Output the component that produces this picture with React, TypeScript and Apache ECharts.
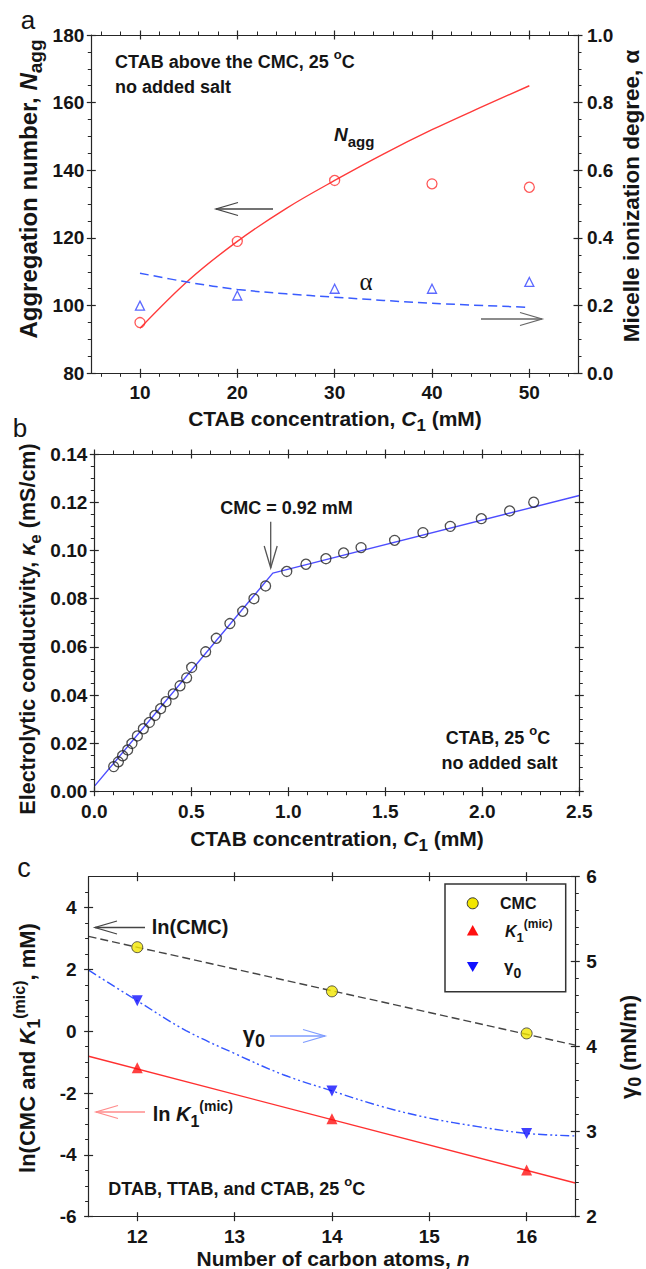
import React, { useEffect, useRef } from "react";
import * as echarts from "echarts";

// ---------------- Panel (a) data ----------------
const aConc = [10, 20, 30, 40, 50];
const aNagg = [95, 119, 137, 136, 135];
const aAlpha = [0.2, 0.23, 0.25, 0.25, 0.27];
const aNaggFitX = [10, 15, 20, 25, 30, 35, 40, 45, 50];
const aNaggFitY = [93.3, 107.5, 119, 128.7, 137, 144.8, 152, 158.6, 165];
const aAlphaFitX = [10, 15, 20, 25, 30, 40, 50];
const aAlphaFitY = [0.296, 0.269, 0.248, 0.235, 0.225, 0.207, 0.195];
const aXTicks = [10, 20, 30, 40, 50];
const aYTicks = [80, 100, 120, 140, 160, 180];
const aY2Ticks = [0, 0.2, 0.4, 0.6, 0.8, 1.0];

// ---------------- Panel (b) data ----------------
const bConc = [0.1, 0.124, 0.146, 0.172, 0.194, 0.222, 0.253, 0.284, 0.313, 0.342, 0.37, 0.407, 0.442, 0.476, 0.502, 0.574, 0.629, 0.699, 0.765, 0.823, 0.883, 0.992, 1.091, 1.194, 1.285, 1.375, 1.548, 1.694, 1.835, 1.995, 2.141, 2.265];
const bKappa = [0.0104, 0.0124, 0.0149, 0.0173, 0.02, 0.0231, 0.0261, 0.0287, 0.0316, 0.0344, 0.0373, 0.0405, 0.0439, 0.0472, 0.0515, 0.058, 0.0636, 0.0697, 0.0748, 0.08, 0.0853, 0.0913, 0.0943, 0.0966, 0.099, 0.1012, 0.1042, 0.1074, 0.11, 0.1132, 0.1164, 0.12];
const bFitX = [0, 0.92, 2.5];
const bFitY = [0.0022, 0.0906, 0.1228];
const bXTicks = [0, 0.5, 1.0, 1.5, 2.0, 2.5];
const bYTicks = [0, 0.02, 0.04, 0.06, 0.08, 0.1, 0.12, 0.14];

// ---------------- Panel (c) data ----------------
const cN = [12, 14, 16];
const cLnCMC = [2.72, 1.29, -0.07];
const cLnK1 = [-1.18, -2.83, -4.49];
const cGamma = [4.54, 3.48, 2.98];
const cCmcFitX = [11.5, 16.5];
const cCmcFitY = [3.07, -0.45];
const cK1FitX = [11.5, 16.5];
const cK1FitY = [-0.81, -4.91];
const cGammaFitX = [11.5, 12, 12.5, 13, 13.5, 14, 14.5, 15, 15.5, 16, 16.5];
const cGammaFitY = [4.9, 4.54, 4.19, 3.92, 3.67, 3.48, 3.3, 3.16, 3.06, 2.98, 2.95];
const cXTicks = [12, 13, 14, 15, 16];
const cYTicks = [-6, -4, -2, 0, 2, 4];
const cY2Ticks = [2, 3, 4, 5, 6];

const FONT = '"Liberation Sans", Arial, Helvetica, sans-serif';
const SERIF = '"Liberation Serif", "Times New Roman", serif';
const AX = "#262626";
const TXT = "#151515";
const TICK_FS = 19;

function minorsOf(min: number, max: number, step: number, majors: number[]) {
  const out: number[] = [];
  const n = Math.round((max - min) / step);
  for (let i = 0; i <= n; i++) {
    const v = +(min + i * step).toFixed(6);
    if (!majors.some((m) => Math.abs(m - v) < 1e-9)) out.push(v);
  }
  return out;
}

const zip = (xs: number[], ys: number[]) => xs.map((x, i) => [x, ys[i]]);

function addAxis(
  list: any[],
  grid: number,
  position: string,
  min: number,
  max: number,
  majors: number[],
  minors: number[],
  label: null | { fmt: (v: number) => string; margin: number }
): number {
  const idx = list.length;
  const common = {
    type: "value",
    gridIndex: grid,
    min,
    max,
    position,
    splitLine: { show: false },
    splitArea: { show: false },
    minorTick: { show: false },
    minorSplitLine: { show: false },
    silent: true,
    z: 5,
  };
  list.push({
    ...common,
    axisLine: { show: true, onZero: false, lineStyle: { color: AX, width: 1.2 } },
    axisTick: { show: true, inside: false, length: 4.5, customValues: majors, lineStyle: { color: AX, width: 1.2 } },
    axisLabel: label
      ? {
          show: true,
          customValues: majors,
          formatter: label.fmt,
          margin: label.margin,
          fontSize: TICK_FS,
          lineHeight: TICK_FS,
          fontWeight: "bold",
          fontFamily: FONT,
          color: TXT,
        }
      : { show: false },
  });
  list.push({
    ...common,
    axisLine: { show: false, onZero: false },
    axisTick: { show: true, inside: true, length: 4.5, customValues: majors, lineStyle: { color: AX, width: 1.2 } },
    axisLabel: { show: false },
  });
  if (minors.length) {
    list.push({
      ...common,
      axisLine: { show: false, onZero: false },
      axisTick: { show: true, inside: false, length: 3.5, customValues: minors, lineStyle: { color: AX, width: 1 } },
      axisLabel: { show: false },
    });
  }
  return idx;
}

function rich(size: number, extra: number) {
  const lh = size + extra;
  const sup = Math.round(size * 0.72);
  const sub = Math.round(size * 0.8);
  return {
    m: { fontSize: size, fontWeight: "bold", fontFamily: FONT, lineHeight: lh, verticalAlign: "middle" },
    i: { fontSize: size, fontWeight: "bold", fontStyle: "italic", fontFamily: FONT, lineHeight: lh, verticalAlign: "middle" },
    g: { fontSize: size, fontWeight: "bold", fontFamily: FONT, lineHeight: lh, verticalAlign: "middle" },
    sup: { fontSize: sup, fontWeight: "bold", fontFamily: FONT, lineHeight: sup, verticalAlign: "top" },
    sub: { fontSize: sub, fontWeight: "bold", fontFamily: FONT, lineHeight: sub, verticalAlign: "bottom" },
  };
}

function txt(x: number, y: number, text: string, size: number, align = "left", rotation = 0, extra = 10) {
  return {
    type: "text",
    x,
    y,
    rotation,
    silent: true,
    z: 100,
    style: {
      text,
      fill: TXT,
      fontSize: size,
      fontWeight: "bold",
      fontFamily: FONT,
      align,
      verticalAlign: "middle",
      textAlign: align,
      textVerticalAlign: "middle",
      rich: rich(size, extra),
    },
  };
}

function plain(x: number, y: number, text: string, size: number, family: string, weight = "normal") {
  return {
    type: "text",
    x,
    y,
    silent: true,
    z: 100,
    style: {
      text,
      fill: TXT,
      fontSize: size,
      fontWeight: weight,
      fontFamily: family,
      align: "center",
      verticalAlign: "middle",
      textAlign: "center",
      textVerticalAlign: "middle",
    },
  };
}

function arrow(x1: number, y1: number, x2: number, y2: number, color: string) {
  const dx = x2 - x1;
  const dy = y2 - y1;
  const len = Math.sqrt(dx * dx + dy * dy);
  const ux = dx / len;
  const uy = dy / len;
  const hl = 22;
  const hw = 6.5;
  const bx = x2 - ux * hl;
  const by = y2 - uy * hl;
  return [
    { type: "line", silent: true, z: 90, shape: { x1, y1, x2, y2 }, style: { stroke: color, lineWidth: 1.3 } },
    {
      type: "polyline",
      silent: true,
      z: 90,
      shape: { points: [[bx - uy * hw, by + ux * hw], [x2, y2], [bx + uy * hw, by - ux * hw]] },
      style: { stroke: color, lineWidth: 1.3, fill: "none" },
    },
  ];
}

export default function App() {
  const ref = useRef<HTMLDivElement>(null);

  useEffect(() => {
    if (!ref.current) return;
    const chart = echarts.init(ref.current, undefined, { renderer: "svg" });

    const xAxes: any[] = [];
    const yAxes: any[] = [];

    // Panel a
    const aX = addAxis(xAxes, 0, "bottom", 5, 55, aXTicks, minorsOf(6, 54, 2, aXTicks), { fmt: (v) => String(v), margin: 10 });
    addAxis(xAxes, 0, "top", 5, 55, aXTicks, minorsOf(6, 54, 2, aXTicks), null);
    const aY = addAxis(yAxes, 0, "left", 80, 180, aYTicks, minorsOf(80, 180, 5, aYTicks), { fmt: (v) => String(v), margin: 7 });
    const aY2 = addAxis(yAxes, 0, "right", 0, 1, aY2Ticks, minorsOf(0, 1, 0.05, aY2Ticks), { fmt: (v) => v.toFixed(1), margin: 9 });

    // Panel b
    const bX = addAxis(xAxes, 1, "bottom", 0, 2.5, bXTicks, minorsOf(0, 2.5, 0.1, bXTicks), { fmt: (v) => v.toFixed(1), margin: 10 });
    addAxis(xAxes, 1, "top", 0, 2.5, bXTicks, minorsOf(0, 2.5, 0.1, bXTicks), null);
    const bY = addAxis(yAxes, 1, "left", 0, 0.14, bYTicks, minorsOf(0, 0.14, 0.005, bYTicks), { fmt: (v) => v.toFixed(2), margin: 7 });
    addAxis(yAxes, 1, "right", 0, 0.14, bYTicks, minorsOf(0, 0.14, 0.005, bYTicks), null);

    // Panel c
    const cX = addAxis(xAxes, 2, "bottom", 11.5, 16.5, cXTicks, [], { fmt: (v) => String(v), margin: 10 });
    addAxis(xAxes, 2, "top", 11.5, 16.5, cXTicks, [], null);
    const cY = addAxis(yAxes, 2, "left", -6, 5, cYTicks, minorsOf(-6, 4.5, 0.5, cYTicks), { fmt: (v) => String(v), margin: 12 });
    const cY2 = addAxis(yAxes, 2, "right", 2, 6, cY2Ticks, minorsOf(2, 6, 0.2, cY2Ticks), { fmt: (v) => String(v), margin: 11 });

    const hollow = (c: string) => ({ color: "rgba(255,255,255,0)", borderColor: c, borderWidth: 1.3 });

    const series: any[] = [
      // a
      {
        type: "line", xAxisIndex: aX, yAxisIndex: aY, data: zip(aNaggFitX, aNaggFitY), smooth: 0.35, showSymbol: false, symbol: "none",
        lineStyle: { color: "#ff3a3a", width: 1.4 }, z: 2,
      },
      {
        type: "line", xAxisIndex: aX, yAxisIndex: aY2, data: zip(aAlphaFitX, aAlphaFitY), smooth: 0.35, showSymbol: false, symbol: "none",
        lineStyle: { color: "#3a5cff", width: 1.5, type: [9, 5] }, z: 2,
      },
      {
        type: "scatter", xAxisIndex: aX, yAxisIndex: aY, data: zip(aConc, aNagg), symbol: "circle", symbolSize: 10,
        itemStyle: hollow("#ff3030"), z: 3,
      },
      {
        type: "scatter", xAxisIndex: aX, yAxisIndex: aY2, data: zip(aConc, aAlpha), symbol: "triangle", symbolSize: 9,
        itemStyle: hollow("#3344ff"), z: 3,
      },
      // b
      {
        type: "line", xAxisIndex: bX, yAxisIndex: bY, data: zip(bFitX, bFitY), showSymbol: false, symbol: "none",
        lineStyle: { color: "#4d4dff", width: 1.4 }, z: 2,
      },
      {
        type: "scatter", xAxisIndex: bX, yAxisIndex: bY, data: zip(bConc, bKappa), symbol: "circle", symbolSize: 10,
        itemStyle: hollow("#222"), z: 3,
      },
      // c
      {
        type: "line", xAxisIndex: cX, yAxisIndex: cY, data: zip(cCmcFitX, cCmcFitY), showSymbol: false, symbol: "none",
        lineStyle: { color: "#444", width: 1.4, type: [8, 4] }, z: 2,
      },
      {
        type: "line", xAxisIndex: cX, yAxisIndex: cY, data: zip(cK1FitX, cK1FitY), showSymbol: false, symbol: "none",
        lineStyle: { color: "#ff3030", width: 1.4 }, z: 2,
      },
      {
        type: "line", xAxisIndex: cX, yAxisIndex: cY2, data: zip(cGammaFitX, cGammaFitY), smooth: 0.35, showSymbol: false, symbol: "none",
        lineStyle: { color: "#3355ff", width: 1.4, type: [9, 3, 2, 3, 2, 3] }, z: 2,
      },
      {
        type: "scatter", xAxisIndex: cX, yAxisIndex: cY, data: zip(cN, cLnCMC), symbol: "circle", symbolSize: 11,
        itemStyle: { color: "#f2e600", borderColor: "#333", borderWidth: 1 }, z: 3,
      },
      {
        type: "scatter", xAxisIndex: cX, yAxisIndex: cY, data: zip(cN, cLnK1), symbol: "triangle", symbolSize: 11,
        itemStyle: { color: "#ff1010" }, z: 3,
      },
      {
        type: "scatter", xAxisIndex: cX, yAxisIndex: cY2, data: zip(cN, cGamma), symbol: "triangle", symbolRotate: 180, symbolSize: 11,
        itemStyle: { color: "#1010ff" }, z: 3,
      },
    ];

    const graphics: any[] = [
      // panel labels
      plain(28, 20, "a", 26, FONT),
      plain(20, 428, "b", 26, FONT),
      plain(24, 868, "c", 27, FONT),

      // axis titles a
      txt(28, 189, "{m|Aggregation number, }{i|N}{sub|agg}", 24, "center", Math.PI / 2),
      txt(631, 196, "{m|Micelle ionization degree, α}", 22.5, "center", Math.PI / 2, 2),
      txt(335, 418, "{m|CTAB concentration, }{i|C}{sub|1}{m| (mM)}", 21, "center"),
      // annotations a
      txt(115, 62, "{m|CTAB above the CMC, 25 }{sup|o}{m|C}", 18),
      txt(115, 87, "{m|no added salt}", 18, "left", 0, 2),
      txt(334, 134, "{i|N}{sub|agg}", 19),
      plain(366, 281, "α", 25, SERIF),
      ...arrow(273, 209, 216, 209, "#444"),
      ...arrow(481, 319, 542, 319, "#666"),

      // axis titles b
      txt(28, 629, "{m|Electrolytic conductivity, }{i|κ}{sub|e}{m| (mS/cm)}", 21.5, "center", Math.PI / 2),
      txt(337, 838, "{m|CTAB concentration, }{i|C}{sub|1}{m| (mM)}", 21, "center"),
      // annotations b
      txt(286.5, 508, "{m|CMC = 0.92 mM}", 18, "center", 0, 2),
      txt(498, 738, "{m|CTAB, 25 }{sup|o}{m|C}", 18, "center"),
      txt(499.5, 763, "{m|no added salt}", 18, "center", 0, 2),
      ...arrow(270.7, 521.7, 270.7, 568, "#555"),

      // axis titles c
      txt(27, 1048, "{m|ln(CMC and }{i|K}{sub|1}{sup|(mic)}{m|, mM)}", 22, "center", Math.PI / 2),
      txt(628, 1047, "{g|γ}{sub|0}{m| (mN/m)}", 22, "center", Math.PI / 2),
      txt(333, 1258, "{m|Number of carbon atoms, }{i|n}", 21, "center", 0, 1),
      // annotations c
      txt(151.7, 927, "{m|ln(CMC)}", 20, "left", 0, 2),
      txt(152.7, 1114, "{m|ln }{i|K}{sub|1}{sup|(mic)}", 20),
      txt(242.7, 1034, "{g|γ}{sub|0}", 22),
      txt(108.3, 1189, "{m|DTAB, TTAB, and CTAB, 25 }{sup|o}{m|C}", 18),
      ...arrow(145, 927.5, 95, 927.5, "#444"),
      ...arrow(270, 1036, 325, 1036, "#7f9cff"),
      ...arrow(145, 1112, 96, 1112, "#ff8c8c"),

      // legend c
      {
        type: "rect", silent: true, z: 95,
        shape: { x: 445, y: 884, width: 120.7, height: 107.7 },
        style: { fill: "#fff", stroke: "#333", lineWidth: 1.5 },
      },
      {
        type: "circle", silent: true, z: 96,
        shape: { cx: 472.7, cy: 903.3, r: 5.5 },
        style: { fill: "#f2e600", stroke: "#333", lineWidth: 1 },
      },
      {
        type: "polygon", silent: true, z: 96,
        shape: { points: [[472.7, 925], [478.5, 935.5], [466.9, 935.5]] },
        style: { fill: "#ff1010" },
      },
      {
        type: "polygon", silent: true, z: 96,
        shape: { points: [[466.9, 962], [478.5, 962], [472.7, 972]] },
        style: { fill: "#1010ff" },
      },
      txt(500, 903.5, "{m|CMC}", 16, "left", 0, 2),
      txt(505, 931, "{i|K}{sub|1}{sup|(mic)}", 16),
      txt(504, 966, "{g|γ}{sub|0}", 17),
    ];

    chart.setOption({
      animation: false,
      backgroundColor: "#ffffff",
      textStyle: { fontFamily: FONT },
      grid: [
        { left: 91.3, top: 35, width: 486.7, height: 338.3, containLabel: false, outerBoundsMode: "none" },
        { left: 94.3, top: 454, width: 485, height: 337.7, containLabel: false, outerBoundsMode: "none" },
        { left: 88.6, top: 876.7, width: 486.7, height: 340, containLabel: false, outerBoundsMode: "none" },
      ],
      xAxis: xAxes,
      yAxis: yAxes,
      series,
      graphic: graphics,
    });

    return () => chart.dispose();
  }, []);

  return (
    <div
      ref={ref}
      style={{ position: "absolute", left: 0, top: 0, width: 646, height: 1269, background: "#fff" }}
    />
  );
}
